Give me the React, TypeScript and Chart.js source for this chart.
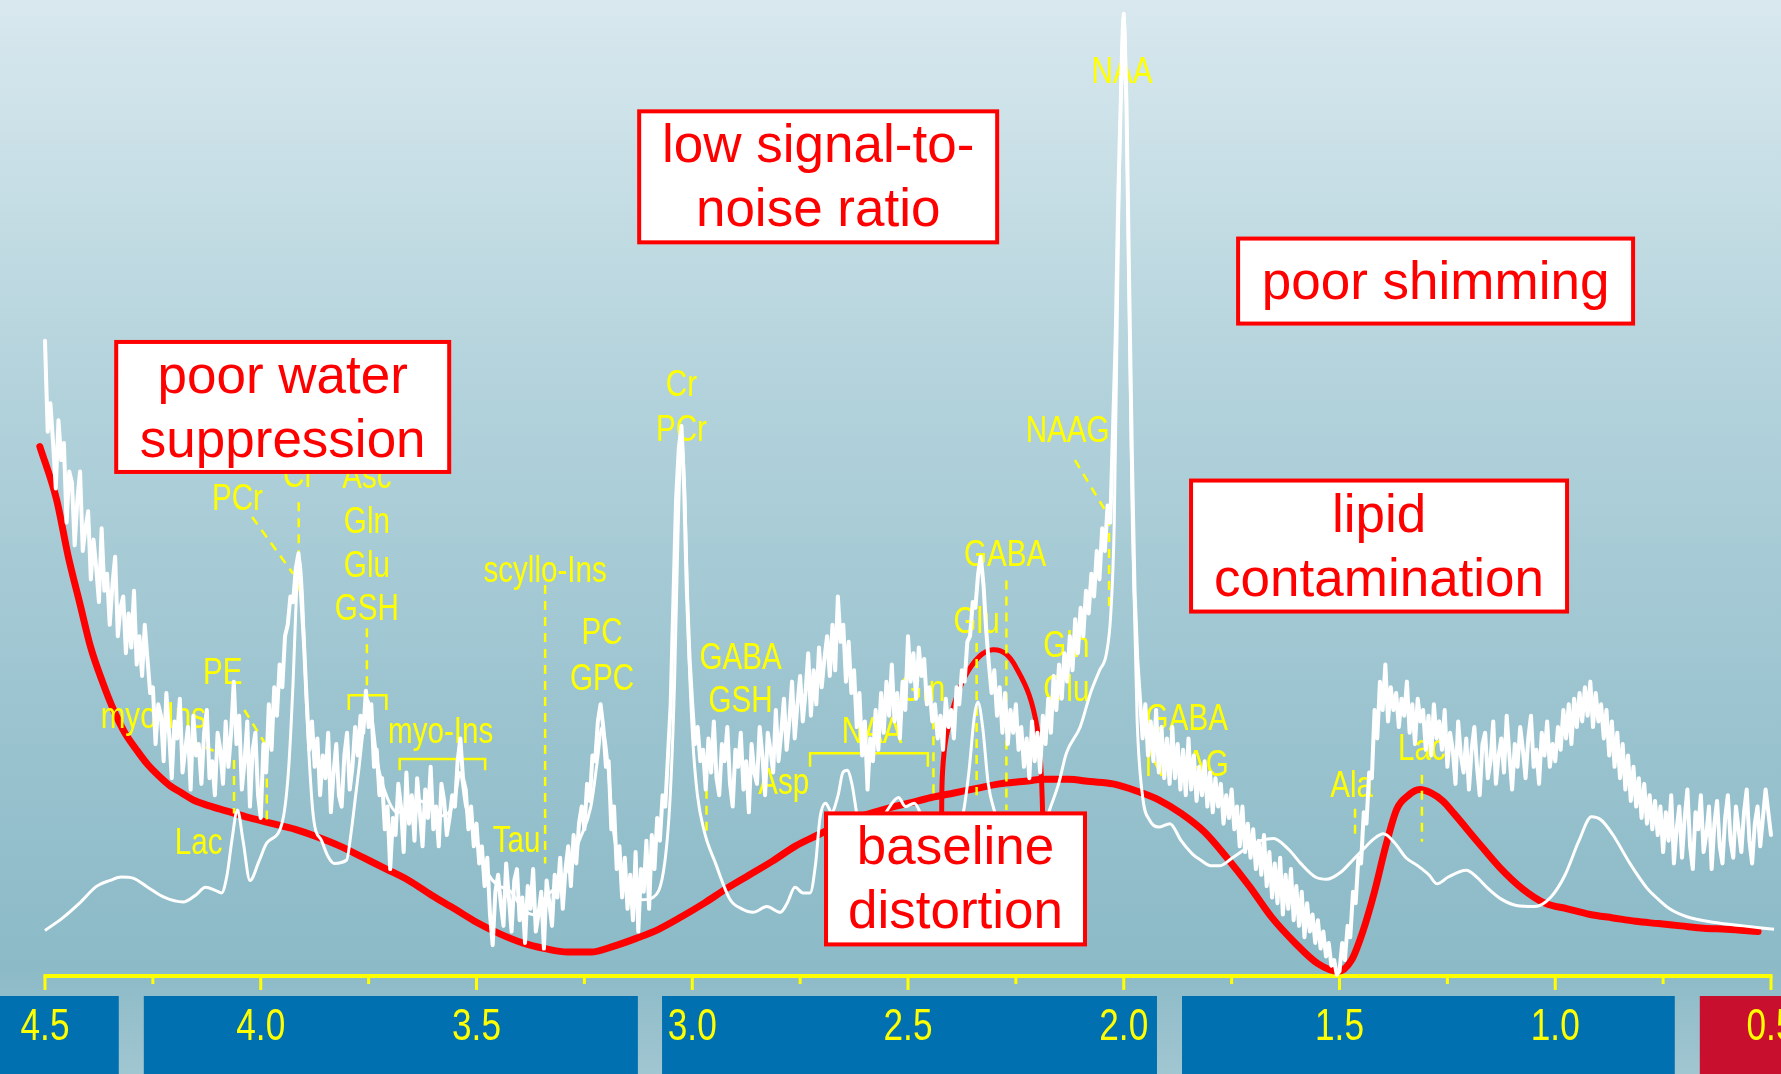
import React, { useEffect, useRef } from "react";
import { Chart, registerables } from "chart.js";

Chart.register(...registerables);

// ---- Spectrum data (chemical shift in ppm, intensity in arbitrary units) ----

// Low-SNR acquisition, sampled on a regular ppm grid from 4.5 ppm downward
const NOISY_START_PPM = 4.5;
const NOISY_STEP_PPM = 0.00625;
const NOISY_VALUES = [
  // 4.50 – 4.26
  560, 480, 505, 470, 430, 490, 455, 470, 400, 445,
  435, 380, 420, 445, 375, 395, 410, 350, 385, 360,
  330, 395, 340, 355, 310, 345, 370, 300, 325, 335,
  285, 320, 290, 340, 275, 300, 265, 310, 280, 250,
  // 4.25 – 4.01
  255, 205, 240, 230, 190, 250, 215, 175, 225, 210,
  245, 180, 200, 220, 165, 230, 195, 205, 170, 215,
  235, 175, 190, 160, 215, 200, 170, 225, 185, 215,
  260, 205, 230, 165, 190, 225, 150, 200, 215, 160,
  // 4.00 – 3.76
  140, 205, 180, 240, 200, 255, 230, 275, 255, 300,
  310, 335, 330, 360, 373, 335, 295, 245, 200, 225,
  185, 210, 160, 195, 175, 215, 145, 180, 205, 160,
  150, 195, 215, 165, 185, 220, 195, 230, 215, 252,
  // 3.75 – 3.51
  220, 240, 185, 200, 160, 175, 130, 150, 95, 140,
  125, 170, 150, 110, 180, 135, 160, 120, 175, 145,
  115, 165, 140, 185, 130, 150, 115, 170, 155, 125,
  140, 160, 150, 190, 210, 175, 165, 130, 150, 115,
  // 3.50 – 3.26
  135, 100, 115, 80, 105, 55, 28, 75, 90, 65,
  45, 100, 70, 40, 85, 95, 50, 70, 30, 80,
  60, 95, 40, 55, 75, 25, 85, 65, 45, 90,
  70, 105, 60, 95, 115, 80, 125, 100, 135, 150,
  // 3.25 – 3.01
  130, 170, 155, 195, 190, 225, 240, 220, 185, 190,
  130, 150, 95, 115, 70, 105, 60, 90, 50, 110,
  40, 95, 75, 120, 60, 125, 95, 140, 120, 160,
  150, 195, 240, 330, 420, 465, 485, 430, 340, 280,
  // 3.00 – 2.76
  240, 205, 220, 190, 200, 165, 210, 180, 225, 175,
  160, 205, 190, 220, 170, 150, 200, 185, 215, 165,
  190, 145, 205, 180, 170, 220, 195, 160, 215, 200,
  180, 235, 190, 215, 245, 200, 225, 260, 210, 240,
  // 2.75 – 2.51
  265, 225, 250, 285, 230, 270, 240, 290, 255, 280,
  300, 265, 310, 270, 335, 295, 310, 260, 295, 250,
  270, 220, 250, 195, 225, 165, 210, 190, 235, 200,
  250, 215, 260, 230, 275, 225, 250, 210, 260, 235,
  // 2.50 – 2.26
  300, 260, 285, 245, 290, 265, 280, 240, 255, 225,
  240, 210, 230, 200, 245, 220, 235, 210, 255, 240,
  270, 260, 295, 300, 330, 325, 355, 370, 345, 305,
  275, 250, 270, 230, 255, 215, 250, 205, 235, 215,
  // 2.25 – 2.01
  240, 200, 220, 185, 210, 175, 225, 190, 215, 180,
  230, 205, 245, 215, 265, 235, 275, 245, 285, 260,
  300, 270, 315, 285, 325, 300, 340, 320, 355, 335,
  375, 350, 395, 375, 415, 400, 480, 560, 690, 780,
  // 2.00 – 1.76
  848, 770, 610, 460, 340, 280, 245, 210, 240, 195,
  225, 190, 235, 180, 220, 175, 210, 170, 220, 175,
  205, 165, 200, 160, 210, 165, 195, 155, 185, 160,
  190, 150, 180, 145, 175, 150, 170, 135, 160, 140,
  // 1.75 – 1.51
  165, 130, 150, 115, 150, 110, 135, 105, 130, 95,
  120, 90, 125, 80, 110, 70, 100, 65, 105, 55,
  90, 60, 95, 50, 80, 45, 75, 35, 65, 40,
  55, 30, 50, 25, 40, 18, 30, 10, 15, 2,
  // 1.50 – 1.26
  5, 30, 15, 45, 35, 75, 65, 105, 100, 145,
  135, 180, 175, 235, 210, 260, 235, 275, 225, 255,
  235, 250, 220, 245, 230, 260, 215, 240, 205, 245,
  225, 235, 200, 230, 195, 240, 210, 225, 200, 235,
  // 1.25 – 1.01
  185, 215, 200, 170, 225, 195, 180, 210, 165, 200,
  220, 185, 160, 205, 215, 175, 190, 225, 170, 195,
  210, 180, 230, 195, 165, 205, 185, 220, 200, 175,
  210, 230, 185, 200, 170, 215, 195, 225, 185, 205,
  // 1.00 – 0.76
  190, 220, 200, 235, 210, 240, 205, 245, 220, 250,
  225, 255, 230, 260, 220, 250, 225, 240, 210, 235,
  195, 225, 185, 215, 175, 205, 165, 195, 155, 185,
  150, 175, 140, 170, 135, 160, 130, 155, 125, 150,
  // 0.75 – 0.50
  110, 145, 120, 160, 100, 130, 150, 105, 140, 165,
  115, 95, 145, 130, 160, 110, 125, 150, 95, 135,
  155, 115, 100, 140, 160, 120, 105, 150, 130, 110,
  145, 165, 120, 100, 135, 150, 115, 140, 165, 145,
  125,
];

// Reference (good quality) spectrum
const CLEAN_PPM = [
  4.5, 4.459, 4.42, 4.38, 4.349, 4.323, 4.296, 4.262, 4.223, 4.18,
  4.151, 4.128, 4.104, 4.091, 4.078, 4.067, 4.054, 4.041, 4.025, 4.004,
  3.986, 3.951, 3.936, 3.925, 3.917, 3.912, 3.904, 3.894, 3.878, 3.859,
  3.844, 3.83, 3.801, 3.791, 3.78, 3.772, 3.762, 3.754, 3.743, 3.73,
  3.709, 3.683, 3.657, 3.63, 3.604, 3.578, 3.551, 3.538, 3.525, 3.499,
  3.472, 3.446, 3.42, 3.393, 3.367, 3.341, 3.314, 3.288, 3.262, 3.235,
  3.22, 3.209, 3.199, 3.183, 3.162, 3.141, 3.117, 3.091, 3.064, 3.051,
  3.041, 3.033, 3.025, 3.017, 3.009, 2.999, 2.988, 2.972, 2.946, 2.912,
  2.885, 2.859, 2.827, 2.796, 2.78, 2.762, 2.743, 2.727, 2.714, 2.704,
  2.691, 2.677, 2.662, 2.651, 2.641, 2.63, 2.617, 2.604, 2.577, 2.551,
  2.522, 2.506, 2.485, 2.467, 2.446, 2.42, 2.393, 2.372, 2.359, 2.346,
  2.338, 2.327, 2.314, 2.298, 2.275, 2.235, 2.196, 2.172, 2.151, 2.133,
  2.101, 2.077, 2.056, 2.04, 2.03, 2.022, 2.014, 2.006, 2.001, 1.996,
  1.988, 1.98, 1.969, 1.956, 1.94, 1.919, 1.893, 1.867, 1.84, 1.822,
  1.798, 1.777, 1.748, 1.709, 1.682, 1.653, 1.617, 1.59, 1.556, 1.53,
  1.498, 1.469, 1.446, 1.419, 1.398, 1.372, 1.346, 1.319, 1.293, 1.274,
  1.248, 1.206, 1.182, 1.156, 1.127, 1.09, 1.048, 1.011, 0.977, 0.945,
  0.916, 0.893, 0.866, 0.827, 0.787, 0.766, 0.735, 0.695, 0.63, 0.564,
  0.493,
];
const CLEAN_VALUES = [
  41, 52, 65, 80, 85, 88, 87, 79, 70, 66,
  72, 79, 76, 74, 90, 120, 147, 120, 85, 102,
  118, 135, 180, 260, 340, 370, 340, 240, 141, 120,
  106, 100, 103, 126, 160, 185, 220, 245, 230, 190,
  160, 145, 150, 155, 148, 142, 155, 180, 150, 120,
  90, 80, 75, 60, 55, 70, 80, 95, 120, 150,
  190, 220, 200, 130, 90, 70, 68, 70, 100, 160,
  260, 390, 475, 420, 300, 210, 160, 128, 100, 68,
  60, 57, 62, 57, 65, 79, 74, 74, 100, 140,
  153, 145, 160, 180, 182, 170, 140, 120, 130, 145,
  158, 150, 153, 140, 120, 100, 115, 144, 180, 230,
  242, 220, 170, 144, 120, 100, 120, 147, 170, 197,
  220, 250, 270, 285, 320, 400, 610, 800, 845, 820,
  610, 400, 226, 158, 138, 132, 135, 120, 108, 103,
  98, 98, 105, 115, 120, 122, 112, 100, 88, 86,
  92, 103, 112, 122, 126, 118, 105, 98, 90, 82,
  88, 94, 88, 78, 69, 63, 62, 70, 90, 120,
  141, 138, 125, 100, 78, 70, 60, 53, 48, 45,
  42,
];

// Distorted baseline
const BASELINE_PPM = [
  4.512, 4.473, 4.446, 4.42, 4.394, 4.367, 4.341, 4.315, 4.288, 4.262,
  4.236, 4.209, 4.183, 4.157, 4.13, 4.078, 4.025, 3.972, 3.92, 3.867,
  3.815, 3.762, 3.709, 3.657, 3.604, 3.551, 3.499, 3.446, 3.393, 3.341,
  3.288, 3.235, 3.183, 3.13, 3.078, 3.025, 2.972, 2.92, 2.867, 2.814,
  2.762, 2.709, 2.656, 2.604, 2.551, 2.498, 2.446, 2.393, 2.341, 2.288,
  2.235, 2.183, 2.13, 2.077, 2.025, 1.972, 1.919, 1.867, 1.814, 1.761,
  1.709, 1.656, 1.603, 1.551, 1.503, 1.472, 1.446, 1.419, 1.393, 1.367,
  1.34, 1.314, 1.288, 1.261, 1.235, 1.182, 1.13, 1.077, 1.024, 0.972,
  0.919, 0.866, 0.814, 0.761, 0.709, 0.656, 0.603, 0.53,
];
const BASELINE_VALUES = [
  467, 420, 370, 330, 290, 260, 235, 215, 200, 187,
  177, 168, 162, 156, 152, 146, 140, 135, 130, 123,
  115, 105, 95, 85, 72, 60, 48, 38, 30, 25,
  22, 22, 27, 34, 42, 53, 65, 78, 90, 102,
  115, 125, 135, 142, 148, 153, 158, 162, 166, 170,
  172, 174, 174, 172, 170, 164, 156, 144, 128, 105,
  80, 52, 30, 12, 5, 15, 40, 75, 115, 148,
  160, 165, 162, 155, 144, 120, 97, 78, 65, 60,
  55, 52, 49, 47, 45, 43, 42, 40,
];

// Local baseline hump under the Glu/GABA region
const HUMP_PPM = [2.422, 2.422, 2.42, 2.412, 2.393, 2.367, 2.335, 2.304, 2.272, 2.246, 2.219, 2.201, 2.193, 2.188, 2.188];
const HUMP_VALUES = [100, 144, 180, 210, 240, 265, 282, 288, 284, 270, 248, 220, 190, 144, 100];

// Chemical-shift axis
const MAJOR_TICKS = [4.5, 4.0, 3.5, 3.0, 2.5, 2.0, 1.5, 1.0, 0.5];
const MINOR_TICKS = [4.25, 3.75, 3.25, 2.75, 2.25, 1.75, 1.25, 0.75];

// Metabolite assignments: [name, ppm, intensity]
const METABOLITES: [string, number, number][] = [
  ["NAA", 2.004, 796],
  ["Cr", 3.025, 520],
  ["PCr", 3.025, 481],
  ["NAAG", 2.13, 480],
  ["PCr", 4.054, 420],
  ["Cr", 3.912, 440],
  ["Asc", 3.754, 439],
  ["Gln", 3.754, 400],
  ["Glu", 3.754, 361],
  ["GSH", 3.754, 323],
  ["scyllo-Ins", 3.341, 357],
  ["PC", 3.209, 302],
  ["GPC", 3.209, 262],
  ["GABA", 2.275, 371],
  ["PE", 4.088, 267],
  ["myo-Ins", 4.249, 228],
  ["myo-Ins", 3.583, 215],
  ["GABA", 2.888, 280],
  ["GSH", 2.888, 242],
  ["NAA", 2.583, 215],
  ["Asp", 2.788, 170],
  ["Glu", 2.341, 312],
  ["Gln", 2.467, 252],
  ["Gln", 2.133, 291],
  ["Glu", 2.133, 252],
  ["GABA", 1.854, 226],
  ["NAAG", 1.854, 186],
  ["Ala", 1.472, 167],
  ["Lac", 1.309, 200],
  ["Lac", 4.144, 117],
  ["Tau", 3.407, 119],
];

// Dashed leader lines: [ppm1, intensity1, ppm2, intensity2]
const LEADERS: [number, number, number, number][] = [
  [4.02, 405, 3.925, 355],
  [3.912, 418, 3.912, 340],
  [3.754, 307, 3.754, 248],
  [3.341, 345, 3.341, 100],
  [2.967, 179, 2.967, 120],
  [2.441, 240, 2.441, 160],
  [2.341, 294, 2.341, 160],
  [2.272, 349, 2.272, 147],
  [2.113, 455, 2.034, 405],
  [2.034, 405, 2.034, 323],
  [1.464, 148, 1.464, 120],
  [1.309, 178, 1.309, 119],
  [4.162, 208, 4.062, 191],
  [4.062, 191, 4.062, 144],
  [4.038, 235, 3.986, 203],
  [3.986, 203, 3.986, 138],
];

// Multiplet brackets: [ppmLeft, ppmRight, intensityTop, intensityEnds]
const BRACKETS: [number, number, number, number][] = [
  [3.796, 3.709, 248, 235],
  [3.678, 3.48, 192, 182],
  [2.727, 2.454, 197, 185],
];

// Artefact call-outs
const CALLOUT_TEXT: string[][] = [
  ["poor water", "suppression"],
  ["low signal-to-", "noise ratio"],
  ["poor shimming"],
  ["lipid", "contamination"],
  ["baseline", "distortion"],
];
// Anchor of each call-out's top-left corner: [ppm, intensity]
const CALLOUT_ANCHOR: [number, number][] = [
  [4.335, 559],
  [3.123, 762],
  [1.735, 650],
  [1.844, 437],
  [2.69, 144],
];
const CALLOUT_SIZE: [number, number][] = [
  [333, 130],
  [358, 131],
  [395, 85],
  [376, 131],
  [259, 131],
];

// Footer bands behind the tick labels: [ppmFrom, ppmTo, colour]
const BANDS: [number, number, string][] = [
  [4.61, 4.329, "#0070b0"],
  [4.271, 3.126, "#0070b0"],
  [3.07, 1.923, "#0070b0"],
  [1.865, 0.723, "#0070b0"],
  [0.665, 0.47, "#c8102e"],
];

const YELLOW = "#ffff00";
const RED = "#ff0000";
const SANS = "'Liberation Sans', Arial, Helvetica, sans-serif";

const xy = (xs: number[], ys: number[]) => xs.map((x, i) => ({ x, y: ys[i] }));
const noisyPoints = NOISY_VALUES.map((y, i) => ({
  x: +(NOISY_START_PPM - i * NOISY_STEP_PPM).toFixed(5),
  y,
}));

function narrowText(ctx: CanvasRenderingContext2D, text: string, px: number, py: number) {
  ctx.save();
  ctx.translate(px, py);
  ctx.scale(0.8, 1);
  ctx.fillText(text, 0, 0);
  ctx.restore();
}

const backdropPlugin = {
  id: "backdrop",
  beforeDraw(chart: any) {
    const { ctx, width, height, chartArea } = chart;
    const x = chart.scales.x;
    ctx.save();
    const g = ctx.createLinearGradient(0, 0, 0, height);
    g.addColorStop(0, "#d8e8ee");
    g.addColorStop(0.35, "#b4d3dc");
    g.addColorStop(0.7, "#98c2ce");
    g.addColorStop(0.9, "#8cbac7");
    g.addColorStop(1, "#a0c6d1");
    ctx.fillStyle = g;
    ctx.fillRect(0, 0, width, height);
    const top = chartArea.bottom + 19;
    BANDS.forEach(([a, b, c]) => {
      const x1 = x.getPixelForValue(a);
      const x2 = x.getPixelForValue(b);
      ctx.fillStyle = c;
      ctx.fillRect(Math.min(x1, x2), top, Math.abs(x2 - x1), height - top);
    });
    ctx.restore();
  },
};

const axisPlugin = {
  id: "ppmAxis",
  beforeDatasetsDraw(chart: any) {
    const { ctx, chartArea } = chart;
    const x = chart.scales.x;
    const y0 = chartArea.bottom - 1;
    ctx.save();
    ctx.strokeStyle = YELLOW;
    ctx.lineCap = "butt";
    ctx.lineWidth = 4;
    ctx.beginPath();
    ctx.moveTo(x.getPixelForValue(MAJOR_TICKS[0]) - 1.5, y0);
    ctx.lineTo(x.getPixelForValue(MAJOR_TICKS[MAJOR_TICKS.length - 1]) + 1.5, y0);
    ctx.stroke();
    ctx.lineWidth = 3;
    MAJOR_TICKS.forEach((t) => {
      const px = x.getPixelForValue(t);
      ctx.beginPath();
      ctx.moveTo(px, y0);
      ctx.lineTo(px, y0 + 14);
      ctx.stroke();
    });
    MINOR_TICKS.forEach((t) => {
      const px = x.getPixelForValue(t);
      ctx.beginPath();
      ctx.moveTo(px, y0);
      ctx.lineTo(px, y0 + 8);
      ctx.stroke();
    });
    // tick labels in a condensed face
    ctx.fillStyle = YELLOW;
    ctx.font = `44px ${SANS}`;
    ctx.textAlign = "center";
    ctx.textBaseline = "alphabetic";
    MAJOR_TICKS.forEach((t) => {
      narrowText(ctx, t.toFixed(1), x.getPixelForValue(t), chartArea.bottom + 63);
    });
    ctx.restore();
  },
};

const assignmentPlugin = {
  id: "assignments",
  afterDatasetDraw(chart: any, args: any) {
    if (args.index !== 2) return;
    const { ctx } = chart;
    const x = chart.scales.x;
    const y = chart.scales.y;
    ctx.save();
    ctx.strokeStyle = YELLOW;
    ctx.lineWidth = 2.5;
    ctx.setLineDash([9, 7]);
    LEADERS.forEach(([a, b, c, d]) => {
      ctx.beginPath();
      ctx.moveTo(x.getPixelForValue(a), y.getPixelForValue(b));
      ctx.lineTo(x.getPixelForValue(c), y.getPixelForValue(d));
      ctx.stroke();
    });
    ctx.setLineDash([]);
    BRACKETS.forEach(([l, r, t, e]) => {
      ctx.beginPath();
      ctx.moveTo(x.getPixelForValue(l), y.getPixelForValue(e));
      ctx.lineTo(x.getPixelForValue(l), y.getPixelForValue(t));
      ctx.lineTo(x.getPixelForValue(r), y.getPixelForValue(t));
      ctx.lineTo(x.getPixelForValue(r), y.getPixelForValue(e));
      ctx.stroke();
    });
    ctx.fillStyle = YELLOW;
    ctx.font = `37px ${SANS}`;
    ctx.textAlign = "center";
    ctx.textBaseline = "middle";
    METABOLITES.forEach(([name, p, v]) => {
      narrowText(ctx, name, x.getPixelForValue(p), y.getPixelForValue(v));
    });
    ctx.restore();
  },
};

const calloutPlugin = {
  id: "callouts",
  afterDatasetsDraw(chart: any) {
    const { ctx } = chart;
    const x = chart.scales.x;
    const y = chart.scales.y;
    ctx.save();
    ctx.font = `53px ${SANS}`;
    ctx.textAlign = "center";
    ctx.textBaseline = "alphabetic";
    CALLOUT_TEXT.forEach((lines, i) => {
      const left = x.getPixelForValue(CALLOUT_ANCHOR[i][0]);
      const top = y.getPixelForValue(CALLOUT_ANCHOR[i][1]);
      const [w, h] = CALLOUT_SIZE[i];
      ctx.fillStyle = "#ffffff";
      ctx.fillRect(left, top, w, h);
      ctx.strokeStyle = RED;
      ctx.lineWidth = 4;
      ctx.strokeRect(left, top, w, h);
      ctx.fillStyle = RED;
      const cx = left + w / 2;
      if (lines.length === 1) {
        ctx.fillText(lines[0], cx, top + 60);
      } else {
        lines.forEach((ln, k) => ctx.fillText(ln, cx, top + 51 + k * 64));
      }
    });
    ctx.restore();
  },
};

export default function App() {
  const canvasRef = useRef<HTMLCanvasElement>(null);

  useEffect(() => {
    document.body.style.margin = "0";
    document.body.style.overflow = "hidden";
    const canvas = canvasRef.current;
    if (!canvas) return;
    const chart = new Chart(canvas, {
      type: "line",
      data: {
        datasets: [
          {
            label: "low SNR",
            data: noisyPoints,
            borderColor: "#ffffff",
            borderWidth: 4,
            pointRadius: 0,
            tension: 0,
            borderJoinStyle: "round",
            borderCapStyle: "round",
            clip: false,
            order: 1,
          },
          {
            label: "reference",
            data: xy(CLEAN_PPM, CLEAN_VALUES),
            borderColor: "#ffffff",
            borderWidth: 3,
            pointRadius: 0,
            cubicInterpolationMode: "monotone",
            borderJoinStyle: "round",
            clip: false,
            order: 2,
          },
          {
            label: "baseline",
            data: xy(BASELINE_PPM, BASELINE_VALUES),
            borderColor: RED,
            borderWidth: 7,
            pointRadius: 0,
            cubicInterpolationMode: "monotone",
            borderCapStyle: "round",
            clip: false,
            order: 3,
          },
          {
            label: "hump",
            data: xy(HUMP_PPM, HUMP_VALUES),
            borderColor: RED,
            borderWidth: 5,
            pointRadius: 0,
            tension: 0.4,
            clip: false,
            order: 4,
          },
        ],
      },
      options: {
        responsive: false,
        animation: false,
        devicePixelRatio: 1,
        events: [],
        layout: { padding: { left: 45, right: 10, top: 0, bottom: 0 } },
        plugins: { legend: { display: false }, tooltip: { enabled: false } },
        scales: {
          x: {
            type: "linear",
            min: 0.5,
            max: 4.5,
            reverse: true,
            grid: { display: false, drawTicks: false },
            border: { display: false },
            ticks: { display: false, stepSize: 0.5 },
            afterFit: (s: any) => {
              s.height = 97;
              s.paddingLeft = 0;
              s.paddingRight = 0;
            },
          },
          y: { type: "linear", min: 0, max: 860, display: false },
        },
      },
      plugins: [backdropPlugin, axisPlugin, assignmentPlugin, calloutPlugin],
    } as any);
    return () => chart.destroy();
  }, []);

  return (
    <canvas
      ref={canvasRef}
      width={1781}
      height={1074}
      style={{ display: "block", width: 1781, height: 1074 }}
    />
  );
}
